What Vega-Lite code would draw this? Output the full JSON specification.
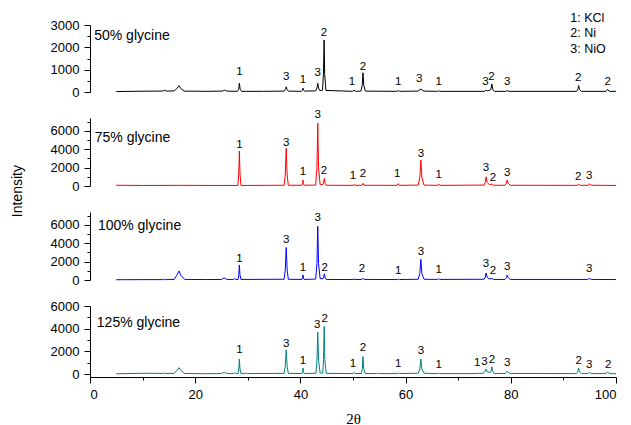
{
"$schema": "https://vega.github.io/schema/vega-lite/v6.json",
"padding": {"left": 11, "top": 12, "right": 5, "bottom": 5},
"title": {"text": "Intensity", "orient": "left", "anchor": "middle", "font": "Liberation Sans", "fontSize": 14, "fontWeight": "normal", "color": "black", "offset": 25, "dx": 28},
"bounds": "flush",
"spacing": 26,
"datasets": {
"p50": [{"x":5,"y":20},{"x":8,"y":30},{"x":12,"y":40},{"x":13.8,"y":40},{"x":14.2,"y":80},{"x":14.6,"y":40},{"x":16.0,"y":50},{"x":16.5,"y":150},{"x":16.9,"y":280},{"x":17.3,"y":150},{"x":17.9,"y":40},{"x":22,"y":30},{"x":25.2,"y":40},{"x":25.6,"y":90},{"x":26.0,"y":40},{"x":28.0,"y":30},{"x":28.25,"y":120},{"x":28.4,"y":390},{"x":28.55,"y":120},{"x":28.8,"y":30},{"x":33,"y":30},{"x":36.9,"y":40},{"x":37.15,"y":120},{"x":37.3,"y":230},{"x":37.45,"y":120},{"x":37.7,"y":40},{"x":40.2,"y":30},{"x":40.4,"y":80},{"x":40.5,"y":170},{"x":40.6,"y":80},{"x":40.8,"y":40},{"x":42.9,"y":50},{"x":43.15,"y":180},{"x":43.3,"y":390},{"x":43.45,"y":180},{"x":43.7,"y":60},{"x":44.2,"y":80},{"x":44.38,"y":800},{"x":44.5,"y":2330},{"x":44.62,"y":800},{"x":44.85,"y":70},{"x":49.9,"y":30},{"x":50.2,"y":80},{"x":50.5,"y":30},{"x":51.5,"y":40},{"x":51.75,"y":300},{"x":51.9,"y":860},{"x":52.05,"y":300},{"x":52.35,"y":40},{"x":58.3,"y":30},{"x":58.6,"y":60},{"x":58.9,"y":30},{"x":62.3,"y":40},{"x":62.7,"y":90},{"x":62.9,"y":140},{"x":63.1,"y":90},{"x":63.5,"y":40},{"x":66.1,"y":30},{"x":66.3,"y":60},{"x":66.5,"y":30},{"x":75.0,"y":30},{"x":75.3,"y":80},{"x":75.6,"y":50},{"x":76.2,"y":100},{"x":76.4,"y":360},{"x":76.6,"y":100},{"x":76.9,"y":30},{"x":79.0,"y":30},{"x":79.3,"y":60},{"x":79.6,"y":30},{"x":92.5,"y":30},{"x":92.75,"y":120},{"x":92.9,"y":290},{"x":93.05,"y":120},{"x":93.4,"y":30},{"x":98.1,"y":30},{"x":98.4,"y":120},{"x":98.7,"y":30},{"x":100,"y":30}],
"p75": [{"x":5,"y":80},{"x":10,"y":60},{"x":17,"y":70},{"x":25,"y":60},{"x":28.1,"y":60},{"x":28.28,"y":1300},{"x":28.4,"y":3800},{"x":28.52,"y":1300},{"x":28.7,"y":60},{"x":36.9,"y":80},{"x":37.12,"y":1200},{"x":37.3,"y":4100},{"x":37.48,"y":1200},{"x":37.7,"y":80},{"x":40.3,"y":80},{"x":40.42,"y":250},{"x":40.5,"y":640},{"x":40.58,"y":250},{"x":40.75,"y":80},{"x":42.9,"y":100},{"x":43.15,"y":2000},{"x":43.3,"y":6850},{"x":43.45,"y":2000},{"x":43.75,"y":150},{"x":44.3,"y":150},{"x":44.42,"y":400},{"x":44.55,"y":820},{"x":44.68,"y":300},{"x":44.9,"y":80},{"x":50.0,"y":70},{"x":50.2,"y":170},{"x":50.4,"y":70},{"x":51.7,"y":80},{"x":51.9,"y":290},{"x":52.1,"y":80},{"x":58.4,"y":70},{"x":58.6,"y":260},{"x":58.8,"y":70},{"x":62.4,"y":100},{"x":62.7,"y":900},{"x":62.9,"y":2820},{"x":63.1,"y":900},{"x":63.5,"y":100},{"x":66.1,"y":70},{"x":66.3,"y":220},{"x":66.5,"y":70},{"x":74.9,"y":100},{"x":75.15,"y":400},{"x":75.3,"y":1000},{"x":75.5,"y":400},{"x":75.9,"y":150},{"x":76.4,"y":200},{"x":76.7,"y":80},{"x":78.9,"y":80},{"x":79.15,"y":300},{"x":79.3,"y":640},{"x":79.5,"y":300},{"x":79.9,"y":80},{"x":92.6,"y":70},{"x":92.9,"y":170},{"x":93.2,"y":70},{"x":94.7,"y":80},{"x":95.0,"y":220},{"x":95.3,"y":80},{"x":100,"y":60}],
"p100": [{"x":5,"y":30},{"x":10,"y":40},{"x":14.0,"y":40},{"x":14.2,"y":100},{"x":14.4,"y":40},{"x":16.0,"y":60},{"x":16.5,"y":500},{"x":16.9,"y":980},{"x":17.3,"y":500},{"x":18.0,"y":60},{"x":22,"y":50},{"x":25.0,"y":60},{"x":25.5,"y":220},{"x":26.0,"y":60},{"x":27.3,"y":60},{"x":27.5,"y":150},{"x":27.7,"y":60},{"x":28.15,"y":60},{"x":28.3,"y":600},{"x":28.4,"y":1640},{"x":28.5,"y":600},{"x":28.7,"y":60},{"x":36.9,"y":80},{"x":37.12,"y":1100},{"x":37.3,"y":3540},{"x":37.48,"y":1100},{"x":37.7,"y":80},{"x":40.3,"y":60},{"x":40.42,"y":220},{"x":40.5,"y":560},{"x":40.58,"y":220},{"x":40.75,"y":60},{"x":42.9,"y":100},{"x":43.15,"y":1800},{"x":43.3,"y":5850},{"x":43.45,"y":1800},{"x":43.75,"y":150},{"x":44.3,"y":150},{"x":44.42,"y":350},{"x":44.55,"y":670},{"x":44.68,"y":250},{"x":44.9,"y":60},{"x":50.0,"y":50},{"x":50.2,"y":100},{"x":50.4,"y":50},{"x":51.7,"y":60},{"x":51.9,"y":200},{"x":52.1,"y":60},{"x":58.4,"y":50},{"x":58.6,"y":110},{"x":58.8,"y":50},{"x":62.4,"y":80},{"x":62.7,"y":700},{"x":62.9,"y":2250},{"x":63.1,"y":700},{"x":63.5,"y":80},{"x":66.1,"y":60},{"x":66.3,"y":150},{"x":66.5,"y":60},{"x":74.9,"y":80},{"x":75.15,"y":300},{"x":75.3,"y":760},{"x":75.5,"y":300},{"x":75.9,"y":120},{"x":76.4,"y":170},{"x":76.7,"y":60},{"x":78.9,"y":60},{"x":79.15,"y":250},{"x":79.3,"y":520},{"x":79.5,"y":250},{"x":79.9,"y":60},{"x":94.6,"y":60},{"x":94.95,"y":170},{"x":95.3,"y":60},{"x":100,"y":50}],
"p125": [{"x":5,"y":30},{"x":8,"y":60},{"x":11,"y":80},{"x":13,"y":70},{"x":14.0,"y":60},{"x":14.2,"y":130},{"x":14.4,"y":60},{"x":16.0,"y":70},{"x":16.5,"y":320},{"x":16.9,"y":570},{"x":17.3,"y":320},{"x":18.0,"y":60},{"x":22,"y":40},{"x":25.0,"y":50},{"x":25.5,"y":180},{"x":26.0,"y":50},{"x":27.3,"y":50},{"x":27.5,"y":130},{"x":27.7,"y":50},{"x":28.15,"y":50},{"x":28.3,"y":500},{"x":28.4,"y":1340},{"x":28.5,"y":500},{"x":28.7,"y":50},{"x":29.5,"y":50},{"x":29.7,"y":100},{"x":29.9,"y":50},{"x":36.9,"y":70},{"x":37.12,"y":700},{"x":37.3,"y":2140},{"x":37.48,"y":700},{"x":37.7,"y":70},{"x":40.3,"y":50},{"x":40.42,"y":220},{"x":40.5,"y":540},{"x":40.58,"y":220},{"x":40.75,"y":50},{"x":42.95,"y":80},{"x":43.15,"y":1200},{"x":43.3,"y":3700},{"x":43.45,"y":1200},{"x":43.75,"y":100},{"x":44.25,"y":100},{"x":44.4,"y":1300},{"x":44.52,"y":4200},{"x":44.64,"y":1300},{"x":44.9,"y":70},{"x":50.0,"y":50},{"x":50.2,"y":160},{"x":50.4,"y":50},{"x":51.6,"y":60},{"x":51.78,"y":520},{"x":51.9,"y":1550},{"x":52.02,"y":520},{"x":52.3,"y":60},{"x":54.5,"y":50},{"x":54.7,"y":100},{"x":54.9,"y":50},{"x":58.4,"y":50},{"x":58.6,"y":120},{"x":58.8,"y":50},{"x":62.4,"y":80},{"x":62.7,"y":440},{"x":62.9,"y":1330},{"x":63.1,"y":440},{"x":63.5,"y":80},{"x":66.1,"y":50},{"x":66.3,"y":110},{"x":66.5,"y":50},{"x":73.4,"y":50},{"x":73.6,"y":100},{"x":73.8,"y":50},{"x":74.8,"y":80},{"x":75.1,"y":250},{"x":75.3,"y":450},{"x":75.55,"y":200},{"x":76.1,"y":150},{"x":76.28,"y":300},{"x":76.4,"y":650},{"x":76.52,"y":300},{"x":76.8,"y":60},{"x":78.9,"y":60},{"x":79.15,"y":150},{"x":79.3,"y":260},{"x":79.5,"y":150},{"x":79.9,"y":60},{"x":92.5,"y":50},{"x":92.75,"y":220},{"x":92.9,"y":540},{"x":93.05,"y":220},{"x":93.4,"y":50},{"x":94.6,"y":50},{"x":94.95,"y":150},{"x":95.3,"y":50},{"x":98.1,"y":50},{"x":98.4,"y":210},{"x":98.7,"y":50},{"x":100,"y":40}],
"lab50": [{"x":28.4,"y":875,"t":"1"},{"x":37.3,"y":650,"t":"3"},{"x":40.5,"y":520,"t":"1"},{"x":43.3,"y":830,"t":"3"},{"x":44.5,"y":2630,"t":"2"},{"x":49.8,"y":430,"t":"1"},{"x":51.9,"y":1140,"t":"2"},{"x":58.6,"y":430,"t":"1"},{"x":62.6,"y":580,"t":"3"},{"x":66.3,"y":460,"t":"1"},{"x":75.2,"y":430,"t":"3"},{"x":76.3,"y":650,"t":"2"},{"x":79.3,"y":430,"t":"3"},{"x":92.8,"y":610,"t":"2"},{"x":98.4,"y":460,"t":"2"}],
"lab75": [{"x":28.4,"y":4510,"t":"1"},{"x":37.3,"y":4730,"t":"3"},{"x":40.5,"y":1480,"t":"1"},{"x":43.3,"y":7710,"t":"3"},{"x":44.5,"y":1640,"t":"2"},{"x":50.0,"y":1060,"t":"1"},{"x":51.9,"y":1280,"t":"2"},{"x":58.4,"y":1350,"t":"1"},{"x":62.9,"y":3530,"t":"3"},{"x":66.3,"y":1170,"t":"1"},{"x":75.3,"y":2000,"t":"3"},{"x":76.6,"y":870,"t":"2"},{"x":79.3,"y":1420,"t":"3"},{"x":92.8,"y":980,"t":"2"},{"x":94.9,"y":1090,"t":"3"}],
"lab100": [{"x":28.4,"y":2330,"t":"1"},{"x":37.3,"y":4310,"t":"3"},{"x":40.5,"y":1300,"t":"1"},{"x":43.3,"y":6710,"t":"3"},{"x":44.6,"y":1330,"t":"2"},{"x":51.7,"y":1190,"t":"2"},{"x":58.6,"y":970,"t":"1"},{"x":62.9,"y":3050,"t":"3"},{"x":66.3,"y":1080,"t":"1"},{"x":75.3,"y":1690,"t":"3"},{"x":76.6,"y":970,"t":"2"},{"x":79.3,"y":1430,"t":"3"},{"x":94.9,"y":1150,"t":"3"}],
"lab125": [{"x":28.4,"y":2120,"t":"1"},{"x":37.3,"y":2650,"t":"3"},{"x":40.5,"y":1170,"t":"1"},{"x":43.2,"y":4320,"t":"3"},{"x":44.6,"y":4850,"t":"2"},{"x":50.0,"y":880,"t":"1"},{"x":51.9,"y":2290,"t":"2"},{"x":58.6,"y":880,"t":"1"},{"x":62.9,"y":2000,"t":"3"},{"x":66.3,"y":820,"t":"1"},{"x":73.6,"y":970,"t":"1"},{"x":75.0,"y":1110,"t":"3"},{"x":76.4,"y":1260,"t":"2"},{"x":79.3,"y":1020,"t":"3"},{"x":92.9,"y":1170,"t":"2"},{"x":94.9,"y":820,"t":"3"},{"x":98.5,"y":790,"t":"2"}],
"name50": [{"x":0.8,"y":2510,"t":"50% glycine"}],
"name75": [{"x":0.9,"y":5230,"t":"75% glycine"}],
"name100": [{"x":1.5,"y":5930,"t":"100% glycine"}],
"name125": [{"x":1.3,"y":4470,"t":"125% glycine"}],
"legend": [{"x":91.3,"y":3300,"t":"1: KCl"},{"x":91.3,"y":2620,"t":"2: Ni"},{"x":91.3,"y":1920,"t":"3: NiO"}]
},
"vconcat": [
{
"width": 526, "height": 67,
"encoding": {
 "x": {"field": "x", "type": "quantitative", "scale": {"domain": [0, 100], "nice": false, "zero": false}, "axis": null},
 "y": {"field": "y", "type": "quantitative", "scale": {"domain": [0, 3000], "nice": false, "zero": false}, "axis": null}
},
"layer": [
 {"data": {"name": "p50"}, "mark": {"type": "line", "color": "black", "strokeWidth": 1}, "encoding": {"y": {"field": "y", "type": "quantitative", "axis": {"orient": "left", "values": [0, 1000, 2000, 3000], "format": "d", "title": null}}}},
 {"data": {"name": "lab50"}, "mark": {"type": "text", "fontSize": 11.5, "font": "Liberation Sans", "color": "black", "baseline": "middle"}, "encoding": {"text": {"field": "t"}, "y": {"field": "y", "type": "quantitative", "axis": {"orient": "left", "values": [500, 1500, 2500], "labels": false, "domain": false, "tickSize": 3, "title": null}}}},
 {"data": {"name": "name50"}, "mark": {"type": "text", "fontSize": 14, "font": "Liberation Sans", "color": "black", "align": "left", "baseline": "middle"}, "encoding": {"text": {"field": "t"}}},
 {"data": {"name": "legend"}, "mark": {"type": "text", "fontSize": 12.5, "font": "Liberation Sans", "color": "black", "align": "left", "baseline": "middle"}, "encoding": {"text": {"field": "t"}}}
],
"resolve": {"axis": {"y": "independent"}}
},
{
"width": 526, "height": 68,
"encoding": {
 "x": {"field": "x", "type": "quantitative", "scale": {"domain": [0, 100], "nice": false, "zero": false}, "axis": null},
 "y": {"field": "y", "type": "quantitative", "scale": {"domain": [0, 7400], "nice": false, "zero": false}, "axis": null}
},
"layer": [
 {"data": {"name": "p75"}, "mark": {"type": "line", "color": "#ff0000", "strokeWidth": 1}, "encoding": {"y": {"field": "y", "type": "quantitative", "axis": {"orient": "left", "values": [0, 2000, 4000, 6000], "format": "d", "title": null}}}},
 {"data": {"name": "lab75"}, "mark": {"type": "text", "fontSize": 11.5, "font": "Liberation Sans", "color": "black", "baseline": "middle"}, "encoding": {"text": {"field": "t"}, "y": {"field": "y", "type": "quantitative", "axis": {"orient": "left", "values": [1000, 3000, 5000, 7000], "labels": false, "domain": false, "tickSize": 3, "title": null}}}},
 {"data": {"name": "name75"}, "mark": {"type": "text", "fontSize": 14, "font": "Liberation Sans", "color": "black", "align": "left", "baseline": "middle"}, "encoding": {"text": {"field": "t"}}}
],
"resolve": {"axis": {"y": "independent"}}
},
{
"width": 526, "height": 68,
"encoding": {
 "x": {"field": "x", "type": "quantitative", "scale": {"domain": [0, 100], "nice": false, "zero": false}, "axis": null},
 "y": {"field": "y", "type": "quantitative", "scale": {"domain": [0, 7400], "nice": false, "zero": false}, "axis": null}
},
"layer": [
 {"data": {"name": "p100"}, "mark": {"type": "line", "color": "#0000ff", "strokeWidth": 1}, "encoding": {"y": {"field": "y", "type": "quantitative", "axis": {"orient": "left", "values": [0, 2000, 4000, 6000], "format": "d", "title": null}}}},
 {"data": {"name": "lab100"}, "mark": {"type": "text", "fontSize": 11.5, "font": "Liberation Sans", "color": "black", "baseline": "middle"}, "encoding": {"text": {"field": "t"}, "y": {"field": "y", "type": "quantitative", "axis": {"orient": "left", "values": [1000, 3000, 5000, 7000], "labels": false, "domain": false, "tickSize": 3, "title": null}}}},
 {"data": {"name": "name100"}, "mark": {"type": "text", "fontSize": 14, "font": "Liberation Sans", "color": "black", "align": "left", "baseline": "middle"}, "encoding": {"text": {"field": "t"}}}
],
"resolve": {"axis": {"y": "independent"}}
},
{
"width": 526, "height": 71,
"encoding": {
 "x": {"field": "x", "type": "quantitative", "scale": {"domain": [0, 100], "nice": false, "zero": false}, "axis": null},
 "y": {"field": "y", "type": "quantitative", "scale": {"domain": [-250, 6000], "nice": false, "zero": false}, "axis": null}
},
"layer": [
 {"data": {"name": "p125"}, "mark": {"type": "line", "color": "#008080", "strokeWidth": 1}, "encoding": {
   "x": {"field": "x", "type": "quantitative", "axis": {"orient": "bottom", "values": [0, 20, 40, 60, 80, 100], "title": "2θ", "titleFont": "Liberation Serif", "titleFontSize": 15, "titleFontWeight": "normal", "titlePadding": 10}},
   "y": {"field": "y", "type": "quantitative", "axis": {"orient": "left", "values": [0, 2000, 4000, 6000], "format": "d", "title": null}}}},
 {"data": {"name": "lab125"}, "mark": {"type": "text", "fontSize": 11.5, "font": "Liberation Sans", "color": "black", "baseline": "middle"}, "encoding": {"text": {"field": "t"},
   "x": {"field": "x", "type": "quantitative", "axis": {"orient": "bottom", "values": [10, 30, 50, 70, 90], "labels": false, "domain": false, "tickSize": 3, "title": null}},
   "y": {"field": "y", "type": "quantitative", "axis": {"orient": "left", "values": [1000, 3000, 5000], "labels": false, "domain": false, "tickSize": 3, "title": null}}}},
 {"data": {"name": "name125"}, "mark": {"type": "text", "fontSize": 14, "font": "Liberation Sans", "color": "black", "align": "left", "baseline": "middle"}, "encoding": {"text": {"field": "t"}}}
],
"resolve": {"axis": {"y": "independent", "x": "independent"}}
}
],
"config": {
 "view": {"stroke": null},
 "axis": {"grid": false, "domainColor": "black", "tickColor": "black", "labelColor": "black", "titleColor": "black", "labelFont": "Liberation Sans", "labelFontSize": 13, "tickSize": 6, "labelPadding": 5, "domainWidth": 1, "tickWidth": 1}
}
}
